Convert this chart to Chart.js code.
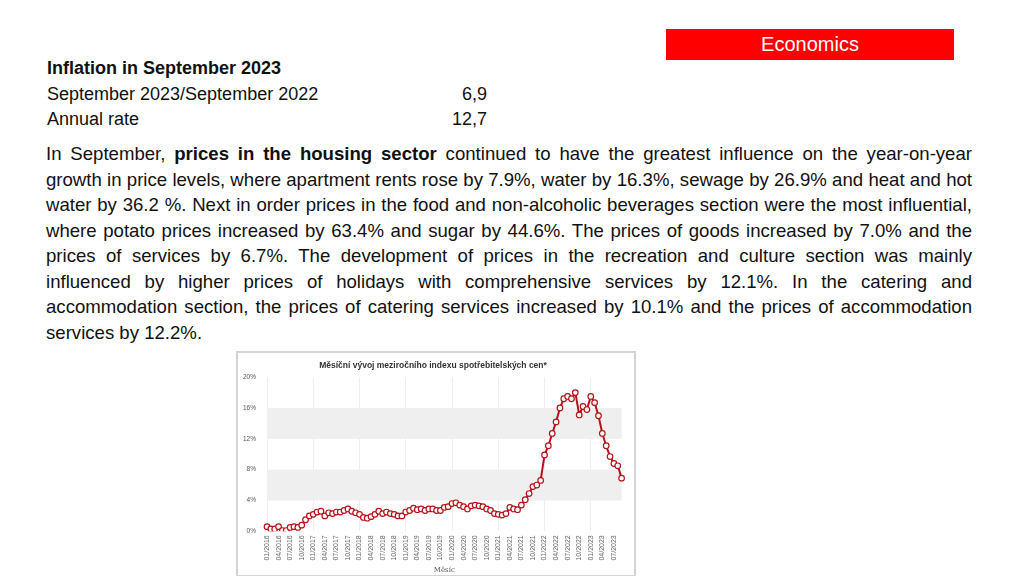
<!DOCTYPE html>
<html>
<head>
<meta charset="utf-8">
<script src="https://cdn.jsdelivr.net/npm/chart.js@4"></script>
<style>
  body { margin: 0; width: 1024px; height: 576px; background: #fff; font-family: 'Liberation Sans', Arial, sans-serif; position: relative; overflow: hidden; color: #111; }
  .tag { position: absolute; left: 666px; top: 29px; width: 288px; height: 31px; background: #ff0000; color: #fff; font-size: 20px; text-align: center; line-height: 31px; }
  .head { position: absolute; left: 47px; top: 56px; font-size: 18px; line-height: 25.5px; }
  .head .v { position: absolute; left: 380px; width: 60px; text-align: right; }
  .body { position: absolute; left: 46px; top: 141px; width: 926px; font-size: 18.6px; line-height: 25.5px; text-align: justify; }
  .frame { position: absolute; left: 236px; top: 351px; width: 396px; height: 222px; border: 2px solid #d4d4d4; background: #fff; }
</style>
</head>
<body>
<div class="tag">Economics</div>
<div class="head">
  <div><b>Inflation in September 2023</b></div>
  <div>September 2023/September 2022<span class="v">6,9</span></div>
  <div>Annual rate<span class="v">12,7</span></div>
</div>
<div class="body">In September, <b>prices in the housing sector</b> continued to have the greatest influence on the year-on-year growth in price levels, where apartment rents rose by 7.9%, water by 16.3%, sewage by 26.9% and heat and hot water by 36.2 %. Next in order prices in the food and non-alcoholic beverages section were the most influential, where potato prices increased by 63.4% and sugar by 44.6%. The prices of goods increased by 7.0% and the prices of services by 6.7%. The development of prices in the recreation and culture section was mainly influenced by higher prices of holidays with comprehensive services by 12.1%. In the catering and accommodation section, the prices of catering services increased by 10.1% and the prices of accommodation services by 12.2%.</div>
<div class="frame"><canvas id="c" width="396" height="222"></canvas></div>
<script>
const chartTitle = 'Měsíční vývoj meziročního indexu spotřebitelských cen*';
const xTitle = 'Měsíc';
const years = [2016, 2017, 2018, 2019, 2020, 2021, 2022, 2023];
const months = [];
years.forEach(y => { for (let m = 1; m <= 12; m++) { if (y === 2023 && m > 9) break; months.push(String(m).padStart(2, '0') + '/' + y); } });
const inflation = [
  0.6, 0.3, 0.3, 0.6, 0.1, 0.1, 0.5, 0.6, 0.5, 0.8, 1.5, 2.0,
  2.2, 2.5, 2.6, 2.0, 2.4, 2.3, 2.5, 2.5, 2.7, 2.9, 2.6, 2.4,
  2.2, 1.8, 1.7, 1.9, 2.2, 2.6, 2.3, 2.5, 2.3, 2.2, 2.0, 2.0,
  2.5, 2.7, 3.0, 2.8, 2.9, 2.7, 2.9, 2.9, 2.7, 2.7, 3.1, 3.2,
  3.6, 3.7, 3.4, 3.2, 2.9, 3.3, 3.4, 3.3, 3.2, 2.9, 2.7, 2.3,
  2.2, 2.1, 2.3, 3.1, 2.9, 2.8, 3.4, 4.1, 4.9, 5.8, 6.0, 6.6,
  9.9, 11.1, 12.7, 14.2, 16.0, 17.2, 17.5, 17.2, 18.0, 15.1, 16.2, 15.8,
  17.5, 16.7, 15.0, 12.7, 11.1, 9.7, 8.8, 8.5, 6.9
];
const bands = [[4, 8], [12, 16]];

const bandPlugin = {
  id: 'bands',
  beforeDatasetsDraw(chart) {
    const { ctx, chartArea: a, scales: { y } } = chart;
    ctx.save();
    ctx.fillStyle = '#efefef';
    bands.forEach(([lo, hi]) => {
      const t = y.getPixelForValue(hi), b = y.getPixelForValue(lo);
      ctx.fillRect(a.left, t, a.right - a.left, b - t);
    });
    ctx.restore();
  }
};

new Chart(document.getElementById('c'), {
  type: 'line',
  data: {
    labels: months,
    datasets: [{
      data: inflation,
      borderColor: '#b5121b',
      borderWidth: 2,
      pointBackgroundColor: '#fff',
      pointBorderColor: '#b5121b',
      pointBorderWidth: 1.2,
      pointRadius: 2.8,
      tension: 0
    }]
  },
  options: {
    responsive: false,
    animation: false,
    layout: { padding: { left: 2, right: 8, top: 2, bottom: 0 } },
    plugins: {
      legend: { display: false },
      tooltip: { enabled: false },
      title: { display: true, text: chartTitle, color: '#333', font: { size: 8.5, weight: 'bold', family: 'Liberation Sans' }, padding: { top: 6, bottom: 6 } }
    },
    scales: {
      x: {
        grid: { color: ctx => ctx.index % 12 === 0 ? '#eeeeee' : 'rgba(0,0,0,0)', drawTicks: false },
        border: { display: false },
        title: { display: true, text: xTitle, color: '#555', font: { size: 7, family: 'DejaVu Serif' }, padding: 1 },
        ticks: {
          autoSkip: false, maxRotation: 90, minRotation: 90, color: '#666', padding: 4,
          font: { size: 7, family: 'Liberation Sans' },
          callback(v, i) { return i % 3 === 0 ? months[i] : ''; }
        }
      },
      y: {
        min: 0, max: 20,
        grid: { display: false },
        border: { display: false },
        ticks: { stepSize: 4, color: '#555', font: { size: 6.5, family: 'Liberation Sans' }, callback: v => v + '%' }
      }
    }
  },
  plugins: [bandPlugin]
});
</script>
</body>
</html>
